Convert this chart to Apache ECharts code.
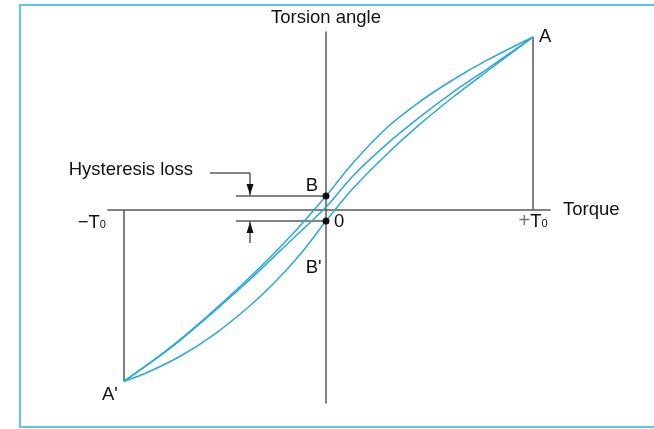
<!DOCTYPE html>
<html>
<head>
<meta charset="utf-8">
<script src="https://cdn.jsdelivr.net/npm/echarts@6/dist/echarts.min.js"></script>
<style>
  html, body { margin: 0; padding: 0; background: #fff; }
  #main { width: 654px; height: 429px; }
</style>
</head>
<body>
<div id="main"></div>
<script>
// torque in units of T0, torsion angle in units of the angle at A
var torqueRange = [-1.053, 1.082];
var angleRange = [-1.116, 1.029];

// unloading branch A -> B -> A'
var upperCurve = [
  [-0.976, -0.991], [-0.729, -0.773], [-0.406, -0.432], [-0.174, -0.155],
  [0, 0.081], [0.13, 0.272], [0.295, 0.477], [0.454, 0.627],
  [0.614, 0.753], [0.778, 0.866], [1, 1]
];
// curve through the origin
var middleCurve = [
  [-0.976, -0.991], [-0.729, -0.778], [-0.406, -0.444], [-0.174, -0.182],
  [0, 0.017], [0.13, 0.197], [0.295, 0.382], [0.454, 0.538],
  [0.614, 0.682], [0.778, 0.815], [1, 1]
];
// loading branch A' -> 0 -> A
var lowerCurve = [
  [-0.976, -0.991], [-0.86, -0.938], [-0.696, -0.84], [-0.536, -0.716],
  [-0.377, -0.564], [-0.246, -0.416], [-0.116, -0.244], [0, -0.064],
  [0.13, 0.124], [0.295, 0.324], [0.454, 0.496], [0.614, 0.653],
  [0.778, 0.802], [1, 1]
];

var pointA = [1, 1];
var pointA2 = [-0.976, -0.991];
var pointB = [0, 0.081];
var pointO = [0, -0.064];
var pointB2 = [-0.06, -0.335];
var lossLeft = -0.435;           // left end of the B / 0 guides
var leaderStart = [-0.56, 0.214]; // "Hysteresis loss" leader
var leaderX = -0.367;
var lowerArrowFrom = -0.191;

var font = "'Liberation Sans', Arial, sans-serif";
var ink = '#111';
var gray = '#5a5a5a';
var blue = '#2ba8da';
var fs = 18.5;

var myChart = echarts.init(document.getElementById('main'));

function curve(name, data) {
  return {
    name: name,
    type: 'line',
    data: data,
    smooth: 0.3,
    showSymbol: false,
    lineStyle: { color: blue, width: 1.5 },
    z: 3
  };
}

function tag(value, text, pos, dist, offset) {
  return {
    value: value,
    label: { show: true, formatter: text, position: pos, distance: dist, offset: offset || [0, 0] }
  };
}

var rich = {
  t: { fontSize: fs, color: ink, fontFamily: font },
  p: { fontSize: 20, color: '#777', fontFamily: font },
  s: { fontSize: 11, color: ink, fontFamily: font, padding: [3, 0, 0, 0] }
};

var option = {
  animation: false,
  backgroundColor: '#fff',
  graphic: [{
    type: 'rect',
    shape: { x: 20, y: 5, width: 660, height: 422 },
    style: { fill: null, stroke: '#5ec6ea', lineWidth: 2 },
    z: 0
  }],
  grid: { left: 108, top: 32, width: 442, height: 371 },
  xAxis: {
    type: 'value',
    min: torqueRange[0],
    max: torqueRange[1],
    name: 'Torque',
    nameLocation: 'end',
    nameGap: 13,
    nameTextStyle: { color: ink, fontSize: fs, fontFamily: font, padding: [0, 0, 7, 0] },
    axisLine: { onZero: true, lineStyle: { color: gray, width: 1.5 } },
    axisTick: { show: false },
    axisLabel: { show: false },
    splitLine: { show: false }
  },
  yAxis: {
    type: 'value',
    min: angleRange[0],
    max: angleRange[1],
    name: 'Torsion angle',
    nameLocation: 'end',
    nameGap: 5,
    nameTextStyle: { color: ink, fontSize: fs, fontFamily: font },
    axisLine: { onZero: true, lineStyle: { color: gray, width: 1.5 } },
    axisTick: { show: false },
    axisLabel: { show: false },
    splitLine: { show: false }
  },
  series: [
    {
      name: 'guides',
      type: 'lines',
      coordinateSystem: 'cartesian2d',
      lineStyle: { color: gray, width: 1.5, opacity: 1 },
      data: [
        { coords: [[pointA[0], 0], pointA] },
        { coords: [[pointA2[0], 0], pointA2] },
        { coords: [[lossLeft, pointB[1]], pointB] },
        { coords: [[lossLeft, pointO[1]], pointO] },
        { coords: [leaderStart, [leaderX, leaderStart[1]]] },
        { coords: [[leaderX, leaderStart[1]], [leaderX, pointB[1]]] },
        { coords: [[leaderX, lowerArrowFrom], [leaderX, pointO[1]]] }
      ],
      z: 2
    },
    curve('upper', upperCurve),
    curve('middle', middleCurve),
    curve('lower', lowerCurve),
    {
      name: 'arrows',
      type: 'scatter',
      itemStyle: { color: '#111', opacity: 1 },
      data: [
        { value: [leaderX, pointB[1]], symbol: 'path://M0,0L7,0L3.5,11Z', symbolSize: [7, 11], symbolOffset: [0, -6.5] },
        { value: [leaderX, pointO[1]], symbol: 'path://M3.5,0L7,11L0,11Z', symbolSize: [7, 11], symbolOffset: [0, 6.5] }
      ],
      z: 4
    },
    {
      name: 'dots',
      type: 'scatter',
      symbolSize: 7,
      itemStyle: { color: '#111', opacity: 1 },
      data: [pointB, pointO],
      z: 5
    },
    {
      name: 'labels',
      type: 'scatter',
      symbolSize: 0,
      itemStyle: { opacity: 1 },
      label: { show: true, color: ink, fontSize: fs, fontFamily: font, rich: rich },
      data: [
        tag(pointA, 'A', 'right', 6),
        tag(pointA2, "A'", 'bottom', 4, [-14, 0]),
        tag(pointB, 'B', 'left', 8, [0, -10]),
        tag(pointO, '0', 'right', 8, [0, 1]),
        tag(pointB2, "B'", 'inside', 0),
        tag([pointA2[0], 0], '{t|\u2212T}{s|0}', 'left', 18, [0, 13]),
        tag([pointA[0], 0], '{p|+}{t|T}{s|0}', 'bottom', 2, [0, 0]),
        tag(leaderStart, 'Hysteresis loss', 'left', 17, [0, -3])
      ],
      z: 6
    }
  ]
};

option && myChart.setOption(option);
</script>
</body>
</html>
